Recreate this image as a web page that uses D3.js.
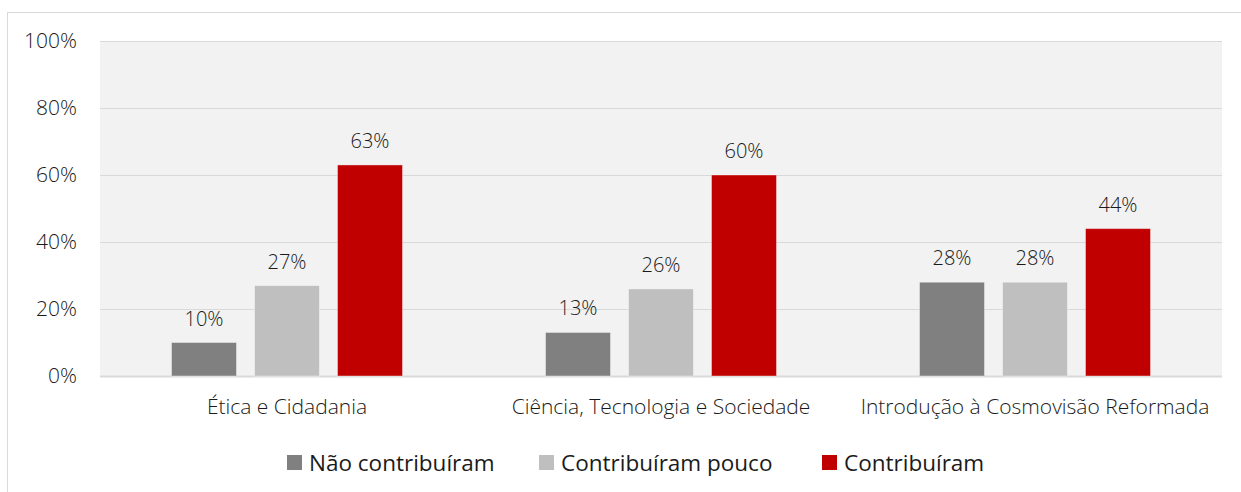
<!DOCTYPE html>
<html>
<head>
<meta charset="utf-8">
<script src="https://cdn.jsdelivr.net/npm/d3@7"></script>
<style>
  body { margin: 0; background: #fff; }
  text { font-family: "Open Sans", Lato, sans-serif; font-weight: 300; fill: #1a1a1a; }
</style>
</head>
<body>
<div id="chart"></div>
<script>
// data
var categories = ["Ética e Cidadania", "Ciência, Tecnologia e Sociedade", "Introdução à Cosmovisão Reformada"];
var seriesNames = ["Não contribuíram", "Contribuíram pouco", "Contribuíram"];
var naoContribuiram = [10, 13, 28];
var contribuiramPouco = [27, 26, 28];
var contribuiram = [63, 60, 44];
var yTicks = [0, 20, 40, 60, 80, 100];
var colors = ["#808080", "#bfbfbf", "#c00000"];

var seriesValues = [naoContribuiram, contribuiramPouco, contribuiram];

var width = 1241, height = 492;
var margin = {top: 41, right: 19, bottom: 116, left: 100},
    chwidth = width - margin.left - margin.right,
    chheight = height - margin.top - margin.bottom;

var svg = d3.select("#chart").append("svg")
    .attr("width", width)
    .attr("height", height);

// chart frame
svg.append("rect")
    .attr("x", 7.5).attr("y", 12.5)
    .attr("width", width).attr("height", height)
    .style("fill", "#fff")
    .style("stroke", "#d9d9d9");

var g = svg.append("g")
    .attr("transform", "translate(" + margin.left + "," + margin.top + ")");

var x0 = d3.scaleBand().domain(categories).range([0, chwidth]);
var barStep = 83, barW = 65;
var x1 = d3.scaleBand().domain(seriesNames)
    .range([0, 2 * barStep + barW])
    .paddingInner((barStep - barW) / barStep);
var y = d3.scaleLinear().domain([0, 100]).range([chheight, 0]);

// plot background
g.append("rect")
    .attr("width", chwidth)
    .attr("height", chheight)
    .style("fill", "#f2f2f2");

// gridlines + y labels
g.selectAll(".grid")
    .data(yTicks)
  .enter().append("line")
    .attr("x1", 0).attr("x2", chwidth)
    .attr("y1", function(d) { return y(d) + 0.5; })
    .attr("y2", function(d) { return y(d) + 0.5; })
    .style("stroke", "#d9d9d9")
    .style("stroke-width", function(d) { return d === 0 ? 2 : 1; });

g.selectAll(".ylab")
    .data(yTicks)
  .enter().append("text")
    .attr("x", -23)
    .attr("y", function(d) { return y(d); })
    .attr("dy", "0.35em")
    .attr("text-anchor", "end")
    .style("font-size", "21px")
    .text(function(d) { return d + "%"; });

// bars
var groups = g.selectAll(".cat")
    .data(categories)
  .enter().append("g")
    .attr("transform", function(d) {
      return "translate(" + (x0(d) + x0.bandwidth() / 2 - x1.range()[1] / 2) + ",0)";
    });

groups.selectAll("rect")
    .data(function(d, i) {
      return seriesNames.map(function(s, j) { return {s: s, j: j, v: seriesValues[j][i]}; });
    })
  .enter().append("rect")
    .attr("x", function(d) { return x1(d.s); })
    .attr("y", function(d) { return y(d.v); })
    .attr("width", x1.bandwidth())
    .attr("height", function(d) { return chheight - y(d.v); })
    .style("fill", function(d) { return colors[d.j]; })
    .style("stroke", "#fff")
    .style("stroke-opacity", 0.4);

groups.selectAll(".lbl")
    .data(function(d, i) {
      return seriesNames.map(function(s, j) { return {s: s, j: j, v: seriesValues[j][i]}; });
    })
  .enter().append("text")
    .attr("x", function(d) { return x1(d.s) + x1.bandwidth() / 2; })
    .attr("y", function(d) { return y(d.v) - 17; })
    .attr("text-anchor", "middle")
    .style("font-size", "20px")
    .text(function(d) { return d.v + "%"; });

// category labels
g.selectAll(".xlab")
    .data(categories)
  .enter().append("text")
    .attr("x", function(d) { return x0(d) + x0.bandwidth() / 2; })
    .attr("y", chheight + 38)
    .attr("text-anchor", "middle")
    .style("font-size", "21px")
    .text(function(d) { return d; });

// legend
var legX = [287, 539, 822];
var legend = svg.selectAll(".leg")
    .data(seriesNames)
  .enter().append("g")
    .attr("transform", function(d, i) { return "translate(" + legX[i] + ",455)"; });

legend.append("rect")
    .attr("width", 15).attr("height", 15)
    .style("fill", function(d, i) { return colors[i]; });

legend.append("text")
    .attr("x", 22)
    .attr("y", 7.5)
    .attr("dy", "0.36em")
    .style("font-size", "22.5px")
    .style("font-weight", 400)
    .style("fill", "#1a1a1a")
    .text(function(d) { return d; });
</script>
</body>
</html>
